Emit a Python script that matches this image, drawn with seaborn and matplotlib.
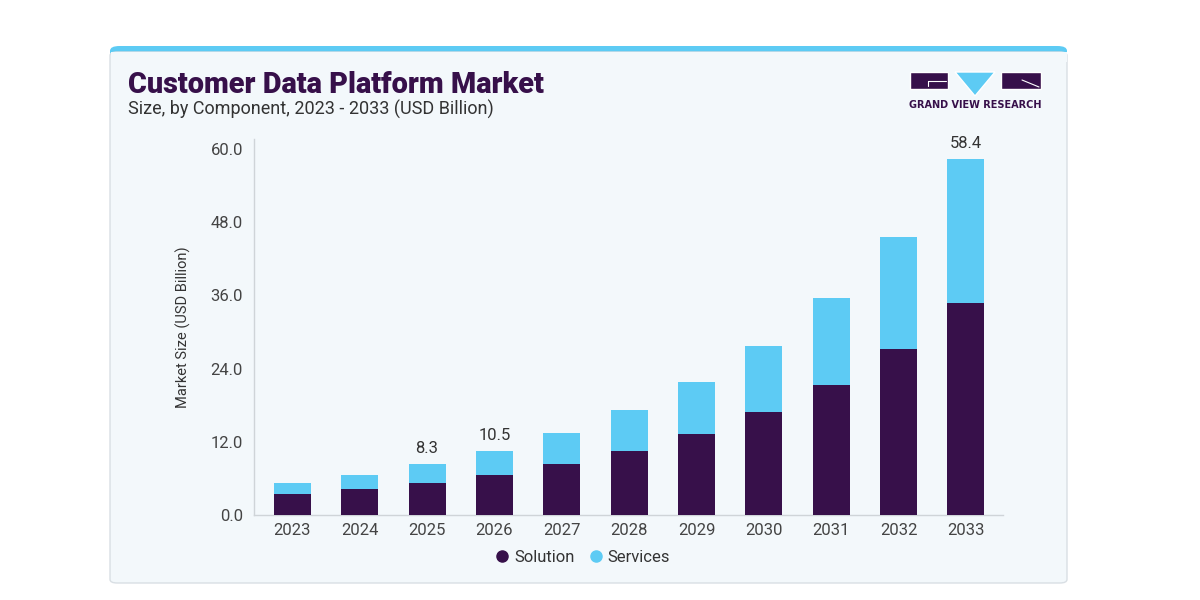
import matplotlib
matplotlib.use("Agg")
import matplotlib.pyplot as plt
import seaborn as sns
import pandas as pd
from matplotlib.patches import FancyBboxPatch, Rectangle, Polygon
from matplotlib.lines import Line2D

# Data (USD Billion)
years = ["2023", "2024", "2025", "2026", "2027", "2028", "2029", "2030", "2031", "2032", "2033"]
solution = [3.4, 4.2, 5.3, 6.5, 8.3, 10.5, 13.3, 16.9, 21.3, 27.2, 34.7]
services = [1.9, 2.4, 3.0, 4.0, 5.2, 6.7, 8.5, 10.8, 14.2, 18.3, 23.7]
labels = {"2025": "8.3", "2026": "10.5", "2033": "58.4"}
yticks = [0, 12, 24, 36, 48, 60]

dark = "#37104a"
blue = "#5dcbf4"
card = "#f3f8fb"

df = pd.DataFrame({"Year": years, "Solution": solution, "Services": services})
df["Total"] = df["Solution"] + df["Services"]

sns.set_style("white")
plt.rcParams["font.family"] = ["Roboto", "DejaVu Sans"]

W, H = 1200, 600
fig = plt.figure(figsize=(12, 6), dpi=100)
fig.patch.set_facecolor("white")


def fx(x):
    return x / W


def fy(y):
    return 1 - y / H


# card with blue top stripe
fig.patches.append(FancyBboxPatch((fx(110), fy(583)), fx(957), (583 - 46) / H,
                                  boxstyle="round,pad=0,rounding_size=0.008",
                                  transform=fig.transFigure, facecolor=blue,
                                  edgecolor="none", zorder=-3))
fig.patches.append(FancyBboxPatch((fx(110), fy(583)), fx(957), (583 - 52) / H,
                                  boxstyle="round,pad=0,rounding_size=0.006",
                                  transform=fig.transFigure, facecolor=card,
                                  edgecolor="#d9dfe4", lw=1, zorder=-2))
fig.patches.append(Rectangle((fx(110.5), fy(62)), fx(956), 10 / H,
                             transform=fig.transFigure, facecolor=card,
                             edgecolor="none", zorder=-1))

# titles
fig.text(fx(128), fy(85), "Customer Data Platform Market", fontsize=20.8,
         fontweight="black", color=dark, va="center", ha="left")
fig.text(fx(128), fy(109), "Size, by Component, 2023 - 2033 (USD Billion)",
         fontsize=13, color="#333333", va="center", ha="left")

# logo
fig.patches.append(Rectangle((fx(910), fy(89)), fx(38), 17 / H,
                             transform=fig.transFigure, facecolor=dark, zorder=1))
fig.patches.append(Rectangle((fx(1001), fy(89)), fx(40), 17 / H,
                             transform=fig.transFigure, facecolor=dark, zorder=1))
fig.patches.append(Polygon([(fx(955), fy(72)), (fx(995), fy(72)), (fx(975), fy(96))],
                           closed=True, transform=fig.transFigure, facecolor=blue, zorder=1))
fig.lines.append(Line2D([fx(928), fx(946)], [fy(81), fy(81)], transform=fig.transFigure,
                        color="white", lw=0.8))
fig.lines.append(Line2D([fx(928), fx(928)], [fy(81), fy(86)], transform=fig.transFigure,
                        color="white", lw=0.8))
fig.lines.append(Line2D([fx(1022), fx(1039)], [fy(80), fy(87)], transform=fig.transFigure,
                        color="white", lw=0.8))
fig.text(fx(975), fy(104.5), "GRAND VIEW RESEARCH", fontsize=7, fontweight="bold",
         family="DejaVu Sans", color=dark, ha="center", va="center")

# chart
ax = fig.add_axes([fx(254), fy(515), fx(1003 - 254), (515 - 139) / H])
ax.patch.set_alpha(0)

sns.barplot(data=df, x="Year", y="Total", color=blue, width=0.55, saturation=1,
            linewidth=0, ax=ax, zorder=2)
sns.barplot(data=df, x="Year", y="Solution", color=dark, width=0.55, saturation=1,
            linewidth=0, ax=ax, zorder=3)

for i, yr in enumerate(years):
    if yr in labels:
        ax.text(i, df["Total"][i] + 1.3, labels[yr], ha="center", va="bottom",
                fontsize=12, color="#333333")

ax.set_xlim(-0.57, 10.55)
ax.set_ylim(0, 61.6)
ax.set_yticks(yticks)
ax.set_yticklabels([f"{v:.1f}" for v in yticks])
ax.set_xlabel("")
ax.set_ylabel("Market Size (USD Billion)", fontsize=10.5, color="#333333", labelpad=14)
ax.tick_params(axis="both", labelsize=12, colors="#444444")
ax.tick_params(axis="y", length=3, color="#cfd4d8", pad=5)
ax.tick_params(axis="x", length=0, pad=6)
sns.despine(ax=ax)
for s in ["left", "bottom"]:
    ax.spines[s].set_color("#cfd4d8")
    ax.spines[s].set_linewidth(1)

handles = [Line2D([], [], marker="o", linestyle="", markersize=8, color=dark, label="Solution"),
           Line2D([], [], marker="o", linestyle="", markersize=8, color=blue, label="Services")]
fig.legend(handles=handles, loc="center", bbox_to_anchor=(fx(583), fy(557)), ncol=2,
           frameon=False, fontsize=12, handlelength=0.8, handletextpad=0.3,
           columnspacing=0.9, labelcolor="#333333")

fig.savefig("out.png", dpi=100)
